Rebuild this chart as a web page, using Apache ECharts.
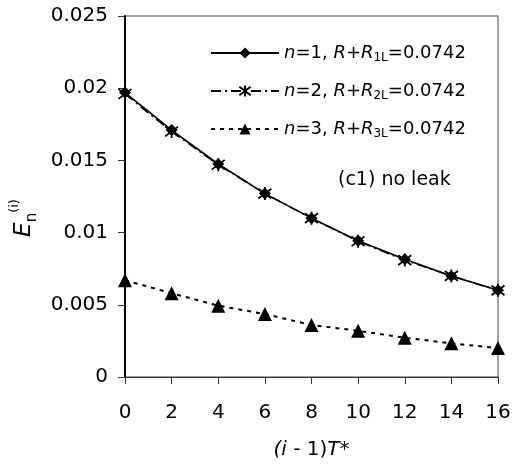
<!DOCTYPE html>
<html><head><meta charset="utf-8">
<script src="https://cdn.jsdelivr.net/npm/echarts@6/dist/echarts.min.js"></script>
<style>html,body{margin:0;padding:0;background:#fff}#c{width:514px;height:470px}</style>
</head><body><div id="c"></div>
<script>
const xValues = [0, 2, 4, 6, 8, 10, 12, 14, 16];
const series1 = [0.0197, 0.0171, 0.01475, 0.0127, 0.0110, 0.00944, 0.00815, 0.0070, 0.0060];
const series2 = [0.0196, 0.0170, 0.0147, 0.0127, 0.0110, 0.0094, 0.0081, 0.0070, 0.0060];
const series3 = [0.0067, 0.0058, 0.00494, 0.00436, 0.0036, 0.0032, 0.00272, 0.00233, 0.0020];
const names = ['n1', 'n2', 'n3'];
const legendLabels = {
  n1: '{i|n}=1, {i|R}+{i|R}{s|1L}=0.0742',
  n2: '{i|n}=2, {i|R}+{i|R}{s|2L}=0.0742',
  n3: '{i|n}=3, {i|R}+{i|R}{s|3L}=0.0742'
};
const yTicks = ['0', '0.005', '0.01', '0.015', '0.02', '0.025'];
const FONT = '"DejaVu Sans", sans-serif';
const star = 'path://M0,-6L0,6M-4.5,-4.5L4.5,4.5M-4.5,4.5L4.5,-4.5';

const chart = echarts.init(document.getElementById('c'), null, {renderer: 'canvas'});
const pairs = a => xValues.map((x, i) => [x, a[i]]);
chart.setOption({
  animation: false,
  grid: {left: 125, right: 16, top: 16, bottom: 93, show: true, borderColor: '#444', borderWidth: 1},
  xAxis: {
    type: 'value', min: 0, max: 16, interval: 2,
    name: '{i|(i} - 1){i|T*}', nameLocation: 'middle', nameGap: 63,
    nameTextStyle: {fontFamily: FONT, fontSize: 20, color: '#000', rich: {i: {fontStyle: 'italic', fontFamily: FONT, fontSize: 20}}},
    axisLine: {onZero: false, lineStyle: {color: '#333', width: 1}},
    axisTick: {show: true, inside: false, length: 7, lineStyle: {color: '#333'}},
    axisLabel: {fontFamily: FONT, fontSize: 20, color: '#000', margin: 26},
    splitLine: {show: false}
  },
  yAxis: {
    type: 'value', min: 0, max: 0.025, interval: 0.005,
    axisLine: {onZero: false, lineStyle: {color: '#000', width: 2}},
    axisTick: {show: true, inside: false, length: 7, lineStyle: {color: '#333'}},
    axisLabel: {fontFamily: FONT, fontSize: 20, color: '#000', margin: 17,
      formatter: (v, idx) => yTicks[idx] !== undefined ? yTicks[idx] : String(v)},
    splitLine: {show: false}
  },
  legend: {
    orient: 'vertical', left: 210, top: 42, padding: 0, itemGap: 16, itemWidth: 68, itemHeight: 14,
    data: names,
    formatter: n => legendLabels[n],
    textStyle: {fontFamily: FONT, fontSize: 18, color: '#000', lineHeight: 22,
      rich: {
        i: {fontStyle: 'italic', fontFamily: FONT, fontSize: 18, lineHeight: 22},
        s: {fontFamily: FONT, fontSize: 12, verticalAlign: 'bottom', lineHeight: 22}
      }}
  },
  graphic: [
    {type: 'text', left: 338, top: 171,
      style: {text: '(c1) no leak', font: '19px ' + FONT, fill: '#000'}},
    {type: 'text', x: 24, y: 218, rotation: Math.PI / 2,
      style: {text: '{e|E}{sub|n}{sup|(i)}', align: 'center', verticalAlign: 'middle', fill: '#000',
        rich: {
          e: {fontStyle: 'italic', fontFamily: FONT, fontSize: 23, lineHeight: 32, verticalAlign: 'middle'},
          sub: {fontFamily: FONT, fontSize: 15, verticalAlign: 'bottom', lineHeight: 32},
          sup: {fontFamily: FONT, fontSize: 13, verticalAlign: 'top', lineHeight: 32}
        }}}
  ],
  series: [
    {name: names[0], type: 'line', data: pairs(series1), symbol: 'diamond', symbolSize: 12,
      itemStyle: {color: '#000'}, lineStyle: {color: '#000', width: 1.6, type: 'solid'}, z: 3},
    {name: names[1], type: 'line', data: pairs(series2), symbol: star, symbolSize: 13,
      itemStyle: {color: 'none', borderColor: '#000', borderWidth: 1.8},
      lineStyle: {color: '#000', width: 1.6, type: [10, 4, 2, 4]}, z: 4},
    {name: names[2], type: 'line', data: pairs(series3), symbol: 'triangle', symbolSize: 14,
      itemStyle: {color: '#000'}, lineStyle: {color: '#000', width: 2, type: [4, 5]}, z: 3}
  ]
});
</script></body></html>
